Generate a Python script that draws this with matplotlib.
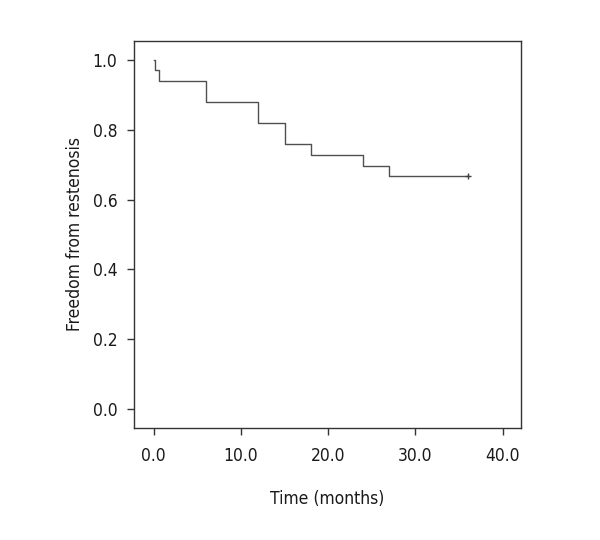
import matplotlib
matplotlib.use("Agg")
import matplotlib.pyplot as plt
import numpy as np

# Kaplan-Meier step data (time in months, survival)
times = [0.0, 0.2, 0.6, 6.0, 12.0, 15.0, 18.0, 24.0, 27.0, 36.0]
survival = [1.0, 0.970, 0.939, 0.879, 0.818, 0.758, 0.727, 0.697, 0.667, 0.667]
censor_times = [36.0]
censor_surv = [0.667]

x_ticks = [0, 10, 20, 30, 40]
x_ticklabels = ["0.0", "10.0", "20.0", "30.0", "40.0"]
y_ticks = [0.0, 0.2, 0.4, 0.6, 0.8, 1.0]
y_ticklabels = ["0.0", "0.2", "0.4", "0.6", "0.8", "1.0"]

plt.rcParams['font.family'] = ['DejaVu Sans']
plt.rcParams['font.stretch'] = 'condensed'

fig = plt.figure(figsize=(6, 5.4), dpi=100)
ax = fig.add_axes([0.2233, 0.208, 0.645, 0.716])

ax.step(times, survival, where='post', color='#505050', lw=1.0)
ax.plot(censor_times, censor_surv, marker='+', color='#404040', ms=5, mew=1.0, ls='none')

ax.set_xlim(-2.25, 42.1)
ax.set_ylim(-0.053, 1.054)
ax.set_xticks(x_ticks)
ax.set_xticklabels(x_ticklabels)
ax.set_yticks(y_ticks)
ax.set_yticklabels(y_ticklabels)

for s in ax.spines.values():
    s.set_color('#333333')
    s.set_linewidth(1.0)
ax.tick_params(direction='out', length=5, width=1, color='#333333', labelsize=12.5, labelcolor='#1a1a1a')
ax.tick_params(axis='x', pad=9)
ax.tick_params(axis='y', pad=7)

ax.set_xlabel('Time (months)', fontsize=12.5, labelpad=18, color='#1a1a1a')
ax.set_ylabel('Freedom from restenosis', fontsize=12.5, labelpad=6, color='#1a1a1a')

fig.savefig('out.png', dpi=100)
